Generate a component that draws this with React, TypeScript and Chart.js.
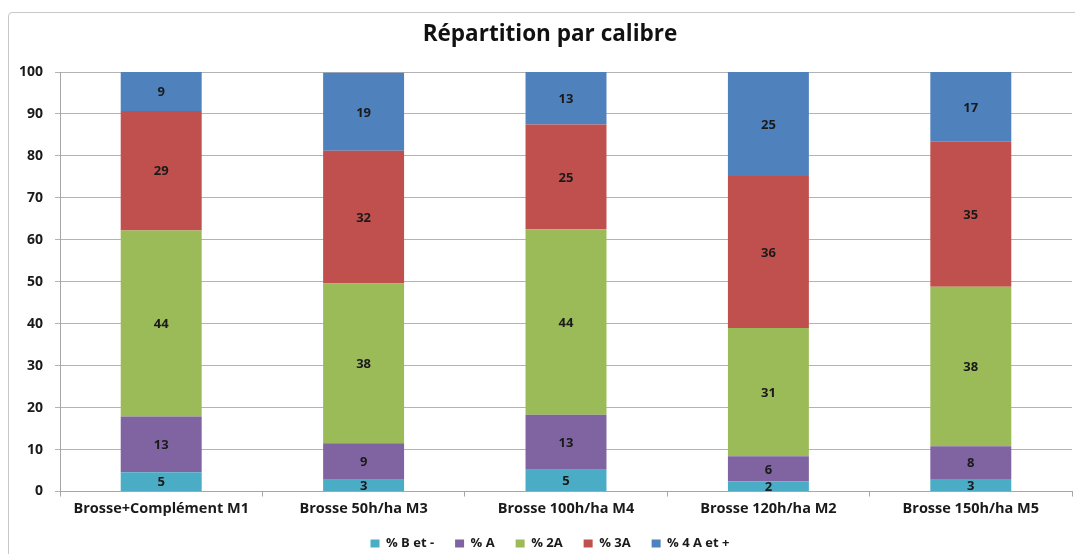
import React, { useEffect, useRef } from "react";
import { Chart, registerables } from "chart.js";

Chart.register(...registerables);

const TITLE = "Répartition par calibre";
const categories = [
  "Brosse+Complément M1",
  "Brosse 50h/ha M3",
  "Brosse 100h/ha M4",
  "Brosse 120h/ha M2",
  "Brosse 150h/ha M5",
];
const seriesNames = ["% B et -", "% A", "% 2A", "% 3A", "% 4 A et +"];
const bEtMoins = [4.6, 2.8, 5.2, 2.4, 3.0];
const calibreA = [13.3, 8.7, 13.1, 6.0, 7.8];
const calibre2A = [44.3, 38.1, 44.2, 30.6, 38.0];
const calibre3A = [28.5, 31.6, 25.0, 36.2, 34.6];
const calibre4A = [9.3, 18.6, 12.5, 24.8, 16.6];
const seriesColors = ["#4BACC6", "#8064A2", "#9BBB59", "#C0504D", "#4F81BD"];
const yTicks = [0, 10, 20, 30, 40, 50, 60, 70, 80, 90, 100];

const FONT = "'Open Sans', 'DejaVu Sans', sans-serif";
const CANVAS_H = 560;
const BOX_SHIFT = 14;

const valueLabels = {
  id: "valueLabels",
  afterLayout(chart: any) {
    if (chart.legend) {
      chart.legend.left += BOX_SHIFT;
      chart.legend.right += BOX_SHIFT;
    }
    if (chart.titleBlock) {
      chart.titleBlock.left += BOX_SHIFT;
      chart.titleBlock.right += BOX_SHIFT;
    }
  },
  afterDatasetsDraw(chart: any) {
    const ctx = chart.ctx;
    ctx.save();
    ctx.font = `bold 13px ${FONT}`;
    ctx.fillStyle = "#1a1a1a";
    ctx.textAlign = "center";
    ctx.textBaseline = "middle";
    chart.data.datasets.forEach((ds: any, i: number) => {
      const meta = chart.getDatasetMeta(i);
      meta.data.forEach((bar: any, j: number) => {
        const v = ds.data[j];
        const cy = (bar.y + bar.base) / 2;
        ctx.fillText(String(Math.round(v)), bar.x, cy + 1);
      });
    });
    ctx.restore();
  },
};

export default function App() {
  const ref = useRef<HTMLCanvasElement | null>(null);
  useEffect(() => {
    if (!ref.current) return;
    const all = [bEtMoins, calibreA, calibre2A, calibre3A, calibre4A];
    const chart = new Chart(ref.current, {
      type: "bar",
      data: {
        labels: categories,
        datasets: all.map((d, i) => ({
          label: seriesNames[i],
          data: d,
          backgroundColor: seriesColors[i],
          borderWidth: 0,
          barPercentage: 0.4,
          categoryPercentage: 1,
        })),
      },
      options: {
        animation: false,
        responsive: false,
        maintainAspectRatio: false,
        layout: { padding: { left: 0, right: 3, top: 0, bottom: 0 } },
        plugins: {
          title: {
            display: true,
            text: TITLE,
            color: "#111",
            font: { family: FONT, size: 22.5, weight: "bold", lineHeight: 1.2 },
            padding: { top: 21.5, bottom: 23.5 },
          },
          legend: {
            position: "bottom",
            labels: {
              boxWidth: 9,
              boxHeight: 8,
              padding: 21,
              color: "#1a1a1a",
              font: { family: FONT, size: 13, weight: "bold" },
            },
          },
          tooltip: { enabled: false },
        },
        scales: {
          x: {
            stacked: true,
            grid: {
              display: true,
              drawOnChartArea: false,
              drawTicks: true,
              tickLength: 5,
              offset: true,
              color: "#a6a6a6",
            },
            border: { display: true, color: "#a6a6a6" },
            ticks: {
              color: "#1a1a1a",
              padding: 4,
              maxRotation: 0,
              font: { family: FONT, size: 14.5, weight: "bold" },
            },
            afterFit: (s: any) => {
              s.height = 24.5;
            },
          },
          y: {
            stacked: true,
            min: 0,
            max: 100,
            afterBuildTicks: (s: any) => {
              s.ticks = yTicks.map((v) => ({ value: v }));
            },
            grid: {
              color: "#b3b3b3",
              tickLength: 5,
              drawTicks: true,
            },
            border: { display: true, color: "#a6a6a6" },
            ticks: {
              color: "#1a1a1a",
              padding: 12,
              font: { family: FONT, size: 14, weight: "bold" },
            },
            afterFit: (s: any) => {
              s.width = 60;
            },
          },
        },
      },
      plugins: [valueLabels],
    });
    return () => chart.destroy();
  }, []);

  return (
    <div
      style={{
        position: "fixed",
        left: 0,
        top: 0,
        width: 1075,
        height: 554,
        overflow: "hidden",
        background: "#fff",
      }}
    >
      <div
        style={{
          position: "absolute",
          left: 8,
          top: 12,
          width: 1080,
          height: 560,
          border: "1px solid #c8c8c8",
          borderRadius: 4,
          boxSizing: "border-box",
        }}
      />
      <canvas
        ref={ref}
        width={1075}
        height={CANVAS_H}
        style={{ position: "absolute", left: 0, top: 0, width: 1075, height: CANVAS_H }}
      />
    </div>
  );
}
